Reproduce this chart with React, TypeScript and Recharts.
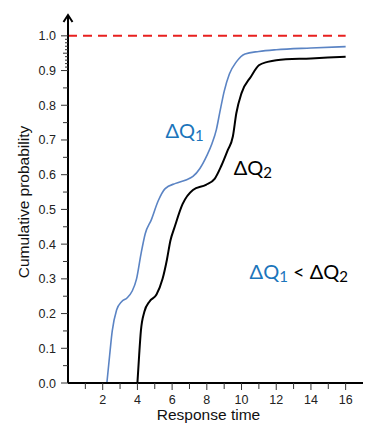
import { LineChart, Line, XAxis, YAxis, ReferenceLine, ReferenceDot } from "recharts";

// ΔQ1 (blue) cumulative distribution
const q1Time = [2.24, 2.4, 2.55, 2.8, 3.1, 3.4, 3.7, 3.95, 4.2, 4.45, 4.8, 5.2, 5.6, 6.2, 6.8, 7.2, 7.6, 8.0, 8.3, 8.55, 8.75, 9.0, 9.3, 9.7, 10.2, 11, 12, 14, 16];
const q1Prob = [0, 0.08, 0.15, 0.21, 0.235, 0.245, 0.265, 0.3, 0.37, 0.43, 0.47, 0.525, 0.56, 0.575, 0.585, 0.595, 0.618, 0.655, 0.69, 0.73, 0.78, 0.84, 0.89, 0.925, 0.948, 0.955, 0.96, 0.965, 0.969];

// ΔQ2 (black) cumulative distribution
const q2Time = [4.0, 4.1, 4.2, 4.4, 4.7, 5.1, 5.45, 5.7, 5.9, 6.15, 6.6, 7.2, 7.95, 8.45, 8.83, 9.2, 9.5, 9.7, 10.0, 10.55, 11.0, 11.5, 12, 14, 16];
const q2Prob = [0, 0.08, 0.15, 0.205, 0.235, 0.255, 0.3, 0.355, 0.41, 0.45, 0.515, 0.556, 0.571, 0.588, 0.625, 0.67, 0.71, 0.777, 0.835, 0.883, 0.915, 0.925, 0.93, 0.935, 0.94];

const xTicks = [1, 2, 3, 4, 5, 6, 7, 8, 9, 10, 11, 12, 13, 14, 15, 16];
const yTicks = [0, 0.05, 0.1, 0.15, 0.2, 0.25, 0.3, 0.35, 0.4, 0.45, 0.5, 0.55, 0.6, 0.65, 0.7, 0.75, 0.8, 0.85, 0.9, 0.91, 0.92, 0.93, 0.94, 0.95, 0.96, 0.97, 0.98, 0.99, 1.0];

const q1Data = q1Time.map((t, i) => ({ t, p: q1Prob[i] }));
const q2Data = q2Time.map((t, i) => ({ t, p: q2Prob[i] }));

const BLUE = "#1b75bb";
const FONT = "'Liberation Sans', Arial, sans-serif";
const LABEL_FONT = "Lato, 'Open Sans', sans-serif";

const isMajorY = (v: number) => Math.abs(v * 10 - Math.round(v * 10)) < 1e-6;
const isHalfY = (v: number) => Math.abs(v * 20 - Math.round(v * 20)) < 1e-6;

const YTick = ({ x, y, payload }: any) => {
  const v = payload.value;
  const len = isMajorY(v) ? 7 : isHalfY(v) ? 5 : 3;
  return (
    <g>
      <line x1={x - len} x2={x} y1={y} y2={y} stroke="#333" strokeWidth={1} />
      {isMajorY(v) && (
        <text x={x - 12} y={y + 4.5} textAnchor="end" fontSize={12.5} fill="#222" fontFamily={FONT}>
          {v.toFixed(1)}
        </text>
      )}
    </g>
  );
};

const XTick = ({ x, y, payload }: any) => {
  const v = payload.value;
  const major = v % 2 === 0;
  return (
    <g>
      <line x1={x} x2={x} y1={y} y2={y + (major ? 7 : 6)} stroke="#333" strokeWidth={1} />
      {major && (
        <text x={x} y={y + 21} textAnchor="middle" fontSize={12.5} fill="#222" fontFamily={FONT}>
          {v}
        </text>
      )}
    </g>
  );
};

const Arrow = ({ cx, cy }: any) => (
  <path d={`M${cx - 4.5} ${cy + 7} L${cx} ${cy} L${cx + 4.5} ${cy + 7}`} fill="none" stroke="#000" strokeWidth={2} />
);

const Q = ({ viewBox, sub, color }: any) => (
  <text x={viewBox.x} y={viewBox.y} textAnchor="middle" fontSize={20} fill={color} fontFamily={LABEL_FONT}>
    ΔQ<tspan fontSize={15} dy={3}>{sub}</tspan>
  </text>
);

const Compare = ({ viewBox }: any) => (
  <text x={viewBox.x} y={viewBox.y} textAnchor="middle" fontSize={20} fontFamily={LABEL_FONT}>
    <tspan fill={BLUE}>ΔQ</tspan>
    <tspan fill={BLUE} fontSize={15} dy={3}>1</tspan>
    <tspan fill="#000" dy={-3}>{"  < ΔQ"}</tspan>
    <tspan fill="#000" fontSize={15} dy={3}>2</tspan>
  </text>
);

const YLabel = ({ viewBox }: any) => {
  const cx = 23;
  const cy = viewBox.y + viewBox.height / 2 + 3;
  return (
    <text x={cx} y={cy} transform={`rotate(-90 ${cx} ${cy})`} textAnchor="middle" dominantBaseline="central" fontSize={15.5} fill="#111" fontFamily={FONT}>
      Cumulative probability
    </text>
  );
};

const XLabel = ({ viewBox }: any) => (
  <text x={viewBox.x + viewBox.width / 2 - 7} y={viewBox.y + 37} textAnchor="middle" fontSize={15.5} fill="#111" fontFamily={FONT}>
    Response time
  </text>
);

export default function App() {
  return (
    <div style={{ position: "absolute", left: 0, top: 0, background: "#fff" }}>
      <LineChart width={367} height={424} margin={{ top: 15, right: 4, bottom: 0, left: 0 }}>
        <XAxis
          type="number"
          dataKey="t"
          domain={[0, 17]}
          ticks={xTicks}
          interval={0}
          allowDataOverflow
          axisLine={{ stroke: "#000", strokeWidth: 2 }}
          tickLine={false}
          tickSize={0}
          tickMargin={0}
          tick={<XTick />}
          height={41}
          label={<XLabel />}
        />
        <YAxis
          type="number"
          dataKey="p"
          domain={[0, 1.06]}
          ticks={yTicks}
          interval={0}
          allowDataOverflow
          width={68}
          axisLine={{ stroke: "#000", strokeWidth: 2 }}
          tickLine={false}
          tickSize={0}
          tickMargin={0}
          tick={<YTick />}
          label={<YLabel />}
        />
        <ReferenceLine
          segment={[{ x: 0, y: 1 }, { x: 16, y: 1 }]}
          stroke="#e8201f"
          strokeWidth={2}
          strokeDasharray="9 6"
          ifOverflow="visible"
        />
        <Line data={q1Data} dataKey="p" type="monotone" stroke="#5b84c4" strokeWidth={1.6} dot={false} isAnimationActive={false} />
        <Line data={q2Data} dataKey="p" type="monotone" stroke="#000" strokeWidth={2} dot={false} isAnimationActive={false} />
        <ReferenceDot x={0} y={1.06} r={0} shape={<Arrow />} ifOverflow="visible" />
        <ReferenceDot x={6.72} y={0.705} r={0} fill="none" stroke="none" ifOverflow="visible" label={<Q sub="1" color={BLUE} />} />
        <ReferenceDot x={10.65} y={0.6} r={0} fill="none" stroke="none" ifOverflow="visible" label={<Q sub="2" color="#000" />} />
        <ReferenceDot x={13.3} y={0.3} r={0} fill="none" stroke="none" ifOverflow="visible" label={<Compare />} />
      </LineChart>
    </div>
  );
}
